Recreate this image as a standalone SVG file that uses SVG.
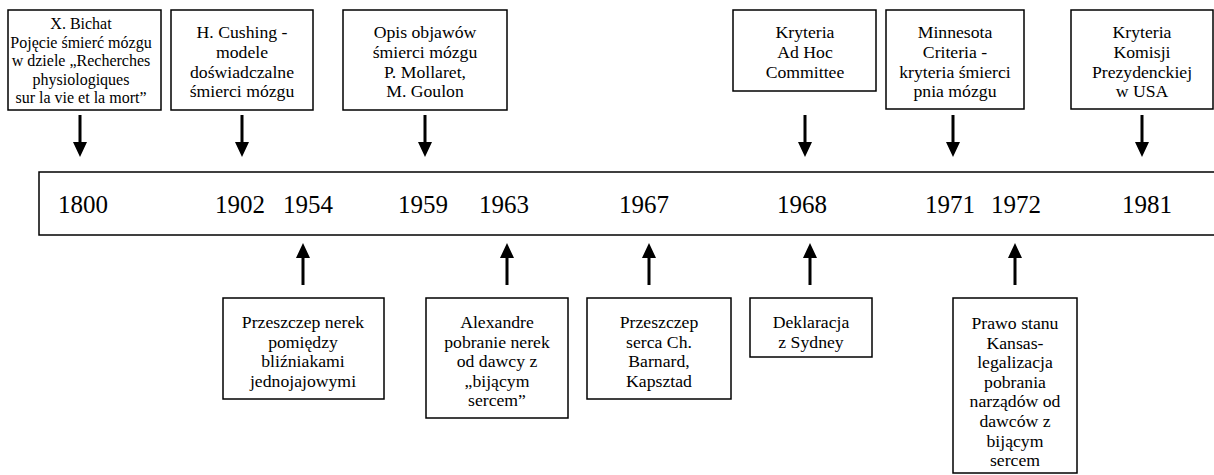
<svg xmlns="http://www.w3.org/2000/svg" width="1214" height="475" viewBox="0 0 1214 475">
<style>
.box{fill:#fff;stroke:#000;stroke-width:1.5}
.t{font-family:'Liberation Serif','DejaVu Serif',serif;font-size:17.7px;fill:#000;text-anchor:middle}
.s{font-size:16px}
.yr{font-family:'Liberation Serif','DejaVu Serif',serif;font-size:25px;fill:#000}
.arr{stroke:#000;stroke-width:3;fill:none}
.hd{fill:#000}
</style>
<rect width="1214" height="475" fill="#fff"/>
<g id="timeline">
<rect class="box" x="39" y="172" width="1180" height="63"/>
<text class="yr" x="58" y="213">1800</text>
<text class="yr" x="215" y="213">1902</text>
<text class="yr" x="283" y="213">1954</text>
<text class="yr" x="398" y="213">1959</text>
<text class="yr" x="479" y="213">1963</text>
<text class="yr" x="619" y="213">1967</text>
<text class="yr" x="777" y="213">1968</text>
<text class="yr" x="925" y="213">1971</text>
<text class="yr" x="991" y="213">1972</text>
<text class="yr" x="1122" y="213">1981</text>
</g>
<g id="n-bichat">
<rect class="box" x="8" y="10" width="153" height="100"/>
<text class="t s" x="81" y="29">X. Bichat</text>
<text class="t s" x="81" y="47.5">Pojęcie śmierć mózgu</text>
<text class="t s" x="81" y="66">w dziele „Recherches</text>
<text class="t s" x="81" y="84.5">physiologiques</text>
<text class="t s" x="81" y="103">sur la vie et la mort”</text>
</g>
<g id="n-cushing">
<rect class="box" x="171" y="10" width="142" height="100"/>
<text class="t" x="242" y="38">H. Cushing -</text>
<text class="t" x="242" y="57.8">modele</text>
<text class="t" x="242" y="77.6">doświadczalne</text>
<text class="t" x="242" y="97.4">śmierci mózgu</text>
</g>
<g id="n-opis">
<rect class="box" x="343" y="10" width="164" height="100"/>
<text class="t" x="425" y="38">Opis objawów</text>
<text class="t" x="425" y="57.8">śmierci mózgu</text>
<text class="t" x="425" y="77.6">P. Mollaret,</text>
<text class="t" x="425" y="97.4">M. Goulon</text>
</g>
<g id="n-adhoc">
<rect class="box" x="733" y="10" width="143" height="81"/>
<text class="t" x="805" y="38">Kryteria</text>
<text class="t" x="805" y="57.8">Ad Hoc</text>
<text class="t" x="805" y="77.6">Committee</text>
</g>
<g id="n-minnesota">
<rect class="box" x="886" y="10" width="138" height="99"/>
<text class="t" x="955" y="38">Minnesota</text>
<text class="t" x="955" y="57.8">Criteria -</text>
<text class="t" x="955" y="77.6">kryteria śmierci</text>
<text class="t" x="955" y="97.4">pnia mózgu</text>
</g>
<g id="n-komisji">
<rect class="box" x="1071" y="10" width="142" height="99"/>
<text class="t" x="1142" y="38">Kryteria</text>
<text class="t" x="1142" y="57.8">Komisji</text>
<text class="t" x="1142" y="77.6">Prezydenckiej</text>
<text class="t" x="1142" y="97.4">w USA</text>
</g>
<g id="n-nerki">
<rect class="box" x="223" y="298" width="161" height="101"/>
<text class="t" x="303" y="328">Przeszczep nerek</text>
<text class="t" x="303" y="347.6">pomiędzy</text>
<text class="t" x="303" y="367.2">bliźniakami</text>
<text class="t" x="303" y="386.8">jednojajowymi</text>
</g>
<g id="n-alexandre">
<rect class="box" x="426" y="298" width="142" height="120"/>
<text class="t" x="497" y="328">Alexandre</text>
<text class="t" x="497" y="347.6">pobranie nerek</text>
<text class="t" x="497" y="367.2">od dawcy z</text>
<text class="t" x="497" y="386.8">„bijącym</text>
<text class="t" x="497" y="406.4">sercem”</text>
</g>
<g id="n-barnard">
<rect class="box" x="587" y="298" width="144" height="101"/>
<text class="t" x="659" y="328">Przeszczep</text>
<text class="t" x="659" y="347.6">serca Ch.</text>
<text class="t" x="659" y="367.2">Barnard,</text>
<text class="t" x="659" y="386.8">Kapsztad</text>
</g>
<g id="n-sydney">
<rect class="box" x="750" y="298" width="122" height="59"/>
<text class="t" x="811" y="328">Deklaracja</text>
<text class="t" x="811" y="347.6">z Sydney</text>
</g>
<g id="n-kansas">
<rect class="box" x="953" y="298" width="124" height="175"/>
<text class="t" x="1015" y="329">Prawo stanu</text>
<text class="t" x="1015" y="348.6">Kansas-</text>
<text class="t" x="1015" y="368.2">legalizacja</text>
<text class="t" x="1015" y="387.8">pobrania</text>
<text class="t" x="1015" y="407.4">narządów od</text>
<text class="t" x="1015" y="427">dawców z</text>
<text class="t" x="1015" y="446.6">bijącym</text>
<text class="t" x="1015" y="466.2">sercem</text>
</g>
<g id="connectors">
<path class="arr" d="M80 115V143M242 115V143M425 115V143M805 115V143M953 115V143M1142 115V143"/>
<path class="hd" d="M73 142H87L80 157ZM235 142H249L242 157ZM418 142H432L425 157ZM798 142H812L805 157ZM946 142H960L953 157ZM1135 142H1149L1142 157Z"/>
<path class="arr" d="M303 257V285M507 257V285M649 257V285M810 257V285M1015 257V285"/>
<path class="hd" d="M296 258H310L303 243ZM500 258H514L507 243ZM642 258H656L649 243ZM803 258H817L810 243ZM1008 258H1022L1015 243Z"/>
</g>
</svg>
